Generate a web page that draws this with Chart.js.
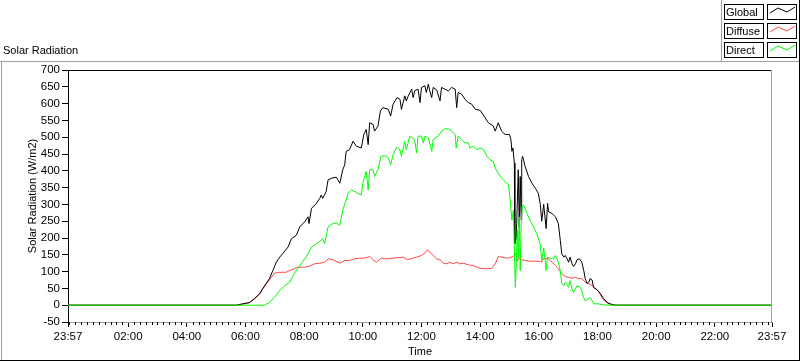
<!DOCTYPE html>
<html>
<head>
<meta charset="utf-8">
<script src="https://cdn.jsdelivr.net/npm/chart.js@4.4.0/dist/chart.umd.min.js"></script>
<style>
  html, body { margin: 0; padding: 0; background: #fff; }
</style>
</head>
<body>
<canvas id="chart-area" width="800" height="361"></canvas>
<script>
// labels
const chartTitle = "Solar Radiation";
const yTitle = "Solar Radiation (W/m2)";
const xTitle = "Time";

// axis ticks ("-00:03" = 23:57 of the day before)
const xTickTimes = ["-00:03", "02:00", "04:00", "06:00", "08:00", "10:00", "12:00", "14:00", "16:00", "18:00", "20:00", "22:00", "23:57"];
const xTickLabels = ["23:57", "02:00", "04:00", "06:00", "08:00", "10:00", "12:00", "14:00", "16:00", "18:00", "20:00", "22:00", "23:57"];
const yTickValues = [-50, 0, 50, 100, 150, 200, 250, 300, 350, 400, 450, 500, 550, 600, 650, 700];

// series
const seriesNames = ["Global", "Diffuse", "Direct"];

const globalTimes = ["-00:03", "05:41", "05:54", "06:08", "06:18", "06:29", "06:35", "06:42", "06:49", "06:56", "07:03", "07:10", "07:16", "07:27", "07:34", "07:44", "07:51", "08:01", "08:08", "08:10", "08:15", "08:25", "08:32", "08:35", "08:38", "08:45", "08:49", "08:56", "09:06", "09:13", "09:19", "09:23", "09:26", "09:33", "09:40", "09:47", "09:57", "10:02", "10:07", "10:11", "10:14", "10:21", "10:24", "10:31", "10:36", "10:41", "10:52", "10:57", "11:02", "11:10", "11:16", "11:19", "11:26", "11:29", "11:33", "11:40", "11:43", "11:46", "11:53", "11:57", "12:00", "12:07", "12:10", "12:14", "12:17", "12:21", "12:24", "12:31", "12:38", "12:41", "12:48", "12:55", "13:02", "13:09", "13:12", "13:15", "13:22", "13:29", "13:36", "13:43", "13:50", "14:00", "14:10", "14:17", "14:27", "14:31", "14:37", "14:44", "14:51", "15:00", "15:03", "15:05", "15:07", "15:10", "15:11", "15:14", "15:18", "15:20", "15:22", "15:24", "15:25", "15:27", "15:32", "15:39", "15:46", "15:53", "15:59", "16:03", "16:06", "16:10", "16:15", "16:18", "16:20", "16:27", "16:34", "16:40", "16:44", "16:47", "16:51", "16:54", "16:58", "17:01", "17:04", "17:08", "17:11", "17:15", "17:18", "17:23", "17:28", "17:32", "17:35", "17:39", "17:42", "17:45", "17:49", "17:52", "17:59", "18:06", "18:13", "18:20", "18:26", "18:33", "18:43", "23:57"];
const globalValues = [0, 0, 4, 8, 19, 34, 49, 64, 79, 103, 128, 143, 153, 173, 198, 208, 233, 248, 263, 243, 288, 303, 318, 328, 318, 338, 373, 378, 381, 363, 403, 418, 458, 463, 488, 473, 468, 508, 523, 478, 543, 538, 518, 533, 578, 588, 583, 563, 598, 618, 613, 583, 623, 608, 623, 643, 618, 638, 643, 603, 648, 653, 633, 658, 638, 618, 648, 641, 608, 648, 643, 638, 648, 643, 588, 633, 628, 613, 603, 598, 583, 580, 558, 543, 533, 518, 543, 518, 508, 508, 493, 458, 468, 423, 183, 203, 403, 233, 383, 253, 433, 443, 413, 383, 363, 348, 333, 300, 250, 300, 228, 303, 278, 273, 263, 243, 193, 153, 143, 148, 138, 128, 143, 123, 115, 123, 135, 138, 128, 103, 79, 64, 68, 79, 75, 53, 46, 34, 19, 8, 4, 1, 0, 0];

const diffuseTimes = ["-00:03", "05:41", "05:54", "06:08", "06:18", "06:29", "06:35", "06:42", "06:53", "06:59", "07:10", "07:23", "07:34", "07:47", "08:01", "08:11", "08:21", "08:32", "08:42", "08:49", "08:59", "09:13", "09:23", "09:33", "09:43", "09:54", "10:04", "10:14", "10:21", "10:28", "10:38", "10:48", "11:02", "11:16", "11:23", "11:29", "11:36", "11:43", "11:50", "12:00", "12:07", "12:12", "12:17", "12:24", "12:31", "12:38", "12:45", "12:52", "12:58", "13:05", "13:12", "13:19", "13:26", "13:36", "13:46", "13:54", "14:00", "14:14", "14:24", "14:31", "14:37", "14:44", "14:55", "15:05", "15:10", "15:14", "15:16", "15:20", "15:25", "15:32", "15:42", "15:53", "16:03", "16:06", "16:10", "16:20", "16:27", "16:34", "16:40", "16:47", "16:54", "17:01", "17:08", "17:15", "17:21", "17:28", "17:35", "17:42", "17:49", "17:56", "18:02", "18:09", "18:16", "18:23", "18:33", "23:57"];
const diffuseValues = [0, 0, 3, 7, 18, 33, 47, 62, 83, 95, 98, 98, 105, 113, 113, 116, 123, 125, 128, 138, 135, 125, 133, 133, 138, 140, 140, 145, 135, 128, 140, 138, 140, 142, 143, 137, 137, 140, 143, 148, 155, 165, 158, 148, 138, 135, 125, 123, 128, 123, 128, 123, 125, 120, 118, 113, 110, 108, 110, 123, 145, 143, 140, 143, 148, 155, 131, 143, 135, 133, 131, 131, 130, 128, 140, 138, 128, 118, 108, 94, 85, 83, 80, 83, 79, 79, 68, 64, 58, 49, 43, 23, 11, 4, 0, 0];

const directTimes = ["-00:03", "06:39", "06:49", "06:59", "07:10", "07:20", "07:30", "07:40", "07:51", "08:01", "08:08", "08:15", "08:21", "08:32", "08:38", "08:42", "08:49", "08:56", "09:06", "09:13", "09:19", "09:26", "09:30", "09:37", "09:47", "09:57", "10:00", "10:07", "10:11", "10:14", "10:21", "10:24", "10:31", "10:37", "10:45", "10:52", "10:57", "11:02", "11:09", "11:16", "11:19", "11:26", "11:29", "11:36", "11:46", "11:50", "11:53", "12:00", "12:04", "12:07", "12:14", "12:21", "12:24", "12:34", "12:41", "12:48", "12:55", "13:02", "13:09", "13:11", "13:15", "13:22", "13:29", "13:36", "13:39", "13:46", "13:53", "14:00", "14:07", "14:14", "14:20", "14:27", "14:31", "14:37", "14:44", "14:51", "14:58", "15:01", "15:05", "15:08", "15:12", "15:14", "15:16", "15:18", "15:20", "15:22", "15:24", "15:26", "15:29", "15:36", "15:42", "15:49", "15:56", "16:03", "16:06", "16:10", "16:13", "16:15", "16:18", "16:23", "16:30", "16:34", "16:40", "16:44", "16:47", "16:51", "16:54", "17:01", "17:04", "17:08", "17:11", "17:15", "17:18", "17:25", "17:28", "17:32", "17:35", "17:42", "17:45", "17:49", "17:52", "18:02", "18:13", "18:20", "23:57"];
const directValues = [0, 0, 8, 23, 43, 58, 68, 94, 118, 138, 153, 173, 178, 190, 198, 183, 233, 241, 245, 238, 283, 313, 333, 343, 335, 328, 363, 398, 343, 403, 403, 383, 403, 443, 445, 438, 418, 448, 470, 463, 443, 488, 463, 503, 493, 453, 503, 503, 483, 503, 498, 458, 493, 503, 518, 525, 525, 518, 508, 468, 503, 493, 483, 483, 468, 473, 463, 468, 463, 443, 433, 428, 408, 393, 378, 368, 358, 318, 253, 283, 53, 123, 223, 143, 263, 103, 243, 293, 298, 273, 253, 233, 213, 180, 133, 170, 133, 103, 143, 140, 138, 148, 128, 103, 64, 58, 68, 53, 73, 49, 38, 49, 58, 53, 43, 23, 13, 19, 23, 13, 4, 4, 1, 0, 0];

const lineColors = ["#000000", "#ff4848", "#00ff00"];

const FONT = "Liberation Sans";

function toMinutes(s) {
  const neg = s[0] === "-";
  const [h, m] = s.replace("-", "").split(":").map(Number);
  return neg ? -(h * 60 + m) : h * 60 + m;
}

function toPoints(times, values) {
  return times.map((t, i) => ({ x: toMinutes(t), y: values[i] }));
}

const xTicks = xTickTimes.map(toMinutes);

// panel, plot border, minor ticks and legend in LabVIEW style
const framePlugin = {
  id: "frame",
  beforeDraw(chart) {
    const ctx = chart.ctx;
    ctx.save();
    ctx.fillStyle = "#fff";
    ctx.fillRect(0, 0, chart.width, chart.height);
    ctx.restore();
  },
  afterDraw(chart) {
    const ctx = chart.ctx;
    const { top, right, bottom } = chart.chartArea;
    const xs = chart.scales.x;
    ctx.save();
    ctx.lineWidth = 1;

    // title
    ctx.fillStyle = "#000";
    ctx.font = "11px " + FONT;
    ctx.textBaseline = "middle";
    ctx.textAlign = "left";
    ctx.fillText(chartTitle, 3, 51);

    // outer panel
    ctx.strokeStyle = "#a0a0a0";
    ctx.beginPath();
    ctx.moveTo(0, 61.5); ctx.lineTo(800, 61.5);
    ctx.moveTo(1.5, 62); ctx.lineTo(1.5, 361);
    ctx.stroke();
    ctx.strokeStyle = "#000";
    ctx.beginPath();
    ctx.moveTo(0, 360.5); ctx.lineTo(800, 360.5);
    ctx.moveTo(799.5, 0); ctx.lineTo(799.5, 361);
    ctx.stroke();

    // plot top (black) and right (grey)
    ctx.beginPath();
    ctx.moveTo(chart.chartArea.left, top + 0.5); ctx.lineTo(right, top + 0.5);
    ctx.stroke();
    ctx.strokeStyle = "#a0a0a0";
    ctx.beginPath();
    ctx.moveTo(right - 0.5, top); ctx.lineTo(right - 0.5, bottom);
    ctx.stroke();

    // minor x ticks every 12 minutes
    ctx.strokeStyle = "#000";
    ctx.beginPath();
    for (let m = 0; m < xs.max; m += 12) {
      if (xTicks.includes(m)) continue;
      const px = Math.round(xs.getPixelForValue(m)) + 0.5;
      ctx.moveTo(px, bottom); ctx.lineTo(px, bottom + 3);
    }
    ctx.stroke();

    // legend
    ctx.strokeStyle = "#a0a0a0";
    ctx.beginPath();
    ctx.moveTo(721.5, 0); ctx.lineTo(721.5, 61);
    ctx.stroke();
    chart.data.datasets.forEach((ds, i) => {
      const y0 = 4 + i * 19;
      ctx.strokeStyle = "#000";
      ctx.strokeRect(724.5, y0 + 0.5, 39, 15);
      ctx.strokeRect(767.5, y0 + 0.5, 29, 15);
      ctx.fillStyle = "#000";
      ctx.fillText(ds.label, 726, y0 + 8.5);
      ctx.strokeStyle = ds.borderColor;
      ctx.beginPath();
      ctx.moveTo(770, y0 + 9); ctx.lineTo(778, y0 + 4);
      ctx.lineTo(787, y0 + 8); ctx.lineTo(795, y0 + 3);
      ctx.stroke();
    });
    ctx.restore();
  },
};

new Chart("chart-area", {
  type: "line",
  data: {
    datasets: [
      { label: seriesNames[0], data: toPoints(globalTimes, globalValues), borderColor: lineColors[0], order: 1 },
      { label: seriesNames[1], data: toPoints(diffuseTimes, diffuseValues), borderColor: lineColors[1], order: 2 },
      { label: seriesNames[2], data: toPoints(directTimes, directValues), borderColor: lineColors[2], order: 0 },
    ],
  },
  options: {
    responsive: false,
    animation: false,
    elements: {
      line: { borderWidth: 1, tension: 0 },
      point: { radius: 0 },
    },
    layout: { padding: { top: 70, right: 28, left: 0, bottom: 0 } },
    plugins: { legend: { display: false }, tooltip: { enabled: false } },
    scales: {
      x: {
        type: "linear",
        min: xTicks[0],
        max: xTicks[xTicks.length - 1],
        afterBuildTicks: (s) => { s.ticks = xTicks.map((v) => ({ value: v })); },
        afterFit: (s) => { s.height = 39; },
        ticks: {
          autoSkip: false, maxRotation: 0, padding: 3, color: "#000",
          font: { family: FONT, size: 11.5 },
          callback: (v, i) => xTickLabels[i],
        },
        grid: { drawOnChartArea: false, tickLength: 5, tickColor: "#000" },
        border: { color: "#a0a0a0", width: 1 },
        title: { display: true, text: xTitle, color: "#000", font: { family: FONT, size: 11 }, padding: { top: 0, bottom: 2 } },
      },
      y: {
        min: yTickValues[0],
        max: yTickValues[yTickValues.length - 1],
        afterBuildTicks: (s) => { s.ticks = yTickValues.map((v) => ({ value: v })); },
        afterFit: (s) => { s.width = 68; },
        ticks: { padding: 2, color: "#000", font: { family: FONT, size: 11.5 } },
        grid: { drawOnChartArea: false, tickLength: 6, tickColor: "#000" },
        border: { color: "#000", width: 1 },
        title: { display: true, text: yTitle, color: "#000", font: { family: FONT, size: 11 }, padding: { top: 26, bottom: 0 } },
      },
    },
  },
  plugins: [framePlugin],
});
</script>
</body>
</html>
